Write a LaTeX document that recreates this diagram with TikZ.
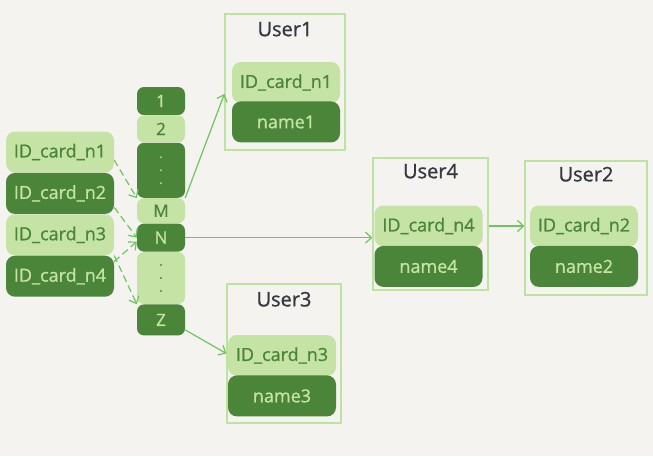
\documentclass[tikz,border=0pt]{standalone}
\usepackage{fontspec}
\setmainfont{Open Sans}[FakeBold=1]
\usetikzlibrary{positioning, arrows.meta}

\definecolor{bgpaper}{HTML}{F4F3EF}
\definecolor{leaf}{HTML}{C6E3A6}
\definecolor{moss}{HTML}{4A8539}
\definecolor{boxgreen}{HTML}{BCE3A0}
\definecolor{arrowgreen}{HTML}{6CC75E}
\definecolor{ink}{HTML}{353940}

\begin{document}
\begin{tikzpicture}[
    x=1pt, y=-1pt,
    >={Straight Barb[length=6pt,width=11pt]},
    cell/.style={
        rectangle, rounded corners=7pt, inner sep=0pt,
        minimum width=48pt, font=\fontsize{17}{19}\selectfont
    },
    lightcell/.style={cell, fill=leaf, text=moss},
    darkcell/.style={cell, fill=moss, text=leaf},
    dots/.style={align=center, font=\fontsize{12}{13}\selectfont},
    field/.style={
        rectangle, rounded corners=9pt, inner sep=0pt,
        minimum width=108pt, minimum height=41pt,
        font=\fontsize{18}{20}\selectfont
    },
    lightfield/.style={field, fill=leaf, text=moss},
    darkfield/.style={field, fill=moss, text=leaf},
    userbox/.style={rectangle, draw=boxgreen, line width=1.3pt, inner sep=0pt},
    usertitle/.style={font=\fontsize{20}{22}\selectfont, text=ink},
    hash/.style={->, arrowgreen, line width=1.2pt, dash pattern=on 7pt off 4pt},
    ptr/.style={->, arrowgreen, line width=1.2pt}
]

\fill[bgpaper] (0,0) rectangle (653,456);
\useasboundingbox (0,0) rectangle (653,456);

% 1. Index keys (left column)
\node[lightfield] (key1) at (60,152) {ID\_card\_n1};
\node[darkfield, below=0pt of key1] (key2) {ID\_card\_n2};
\node[lightfield, below=0pt of key2] (key3) {ID\_card\_n3};
\node[darkfield, below=0pt of key3] (key4) {ID\_card\_n4};

% 2. Hash slots
\node[darkcell, minimum height=28pt] (slot1) at (161,101) {1};
\node[lightcell, minimum height=27pt, below=0pt of slot1] (slot2) {2};
\node[darkcell, dots, minimum height=55pt, below=0pt of slot2] (gap1) {.\\.\\.};
\node[lightcell, minimum height=25pt, below=0pt of gap1] (slotM) {M};
\node[darkcell, minimum height=28pt, below=0pt of slotM] (slotN) {N};
\node[lightcell, dots, minimum height=52pt, below=0pt of slotN] (gap2) {.\\.\\.};
\node[darkcell, minimum height=31pt, below=0pt of gap2] (slotZ) {Z};

% 3. User records
\node[userbox, minimum width=120pt, minimum height=136pt] (user1) at (285,82) {};
\node[usertitle, below=5pt of user1.north] (title1) {User1};
\node[lightfield] (id1) at (286,82.5) {ID\_card\_n1};
\node[darkfield, below=-2pt of id1] (name1) {name1};

\node[userbox, minimum width=115pt, minimum height=132pt] (user4) at (430.5,224) {};
\node[usertitle, below=3pt of user4.north] (title4) {User4};
\node[lightfield] (id4) at (428.5,226) {ID\_card\_n4};
\node[darkfield, below=-1pt of id4] (name4) {name4};

\node[userbox, minimum width=122pt, minimum height=134pt] (user2) at (586,228) {};
\node[usertitle, below=3pt of user2.north] (title2) {User2};
\node[lightfield] (id2) at (584,226) {ID\_card\_n2};
\node[darkfield, below=-1pt of id2] (name2) {name2};

\node[userbox, minimum width=114pt, minimum height=139pt] (user3) at (284,353.5) {};
\node[usertitle, below=5pt of user3.north] (title3) {User3};
\node[lightfield] (id3) at (282,355.5) {ID\_card\_n3};
\node[darkfield, below=-1pt of id3] (name3) {name3};

% 4. Hashing (dashed) and pointers (solid)
\draw[hash] ([yshift=-8pt]key1.east) -- (slotM.north west);
\draw[hash] ([yshift=-14pt]key2.east) -- (slotN.west);
\draw[hash] (key3.south east) -- (slotZ.north west);
\draw[hash] ([yshift=-6pt]key4.north east) -- ([yshift=-4pt]slotN.west);

\draw[ptr] (slotM.north east) -- ([yshift=-12pt]user1.west);
\draw[ptr] (slotN.east) -- (slotN.east -| user4.west);
\draw[ptr] (id4.east -| user4.east) -- (id4.east -| user2.west);
\draw[ptr] ([yshift=-10pt]slotZ.east) -- (user3.west);

\end{tikzpicture}
\end{document}
